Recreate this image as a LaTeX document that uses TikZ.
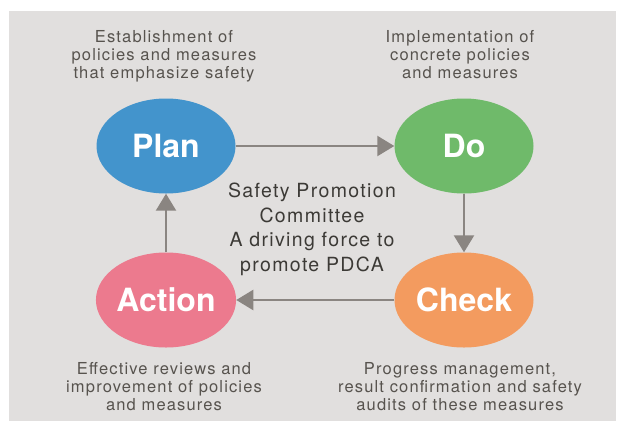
\documentclass[tikz,border=0pt]{standalone}
\usepackage{fontspec}
\setmainfont{TeX Gyre Heros}
\newfontfamily\widefont[LetterSpace=7]{TeX Gyre Heros}
\usetikzlibrary{shapes.geometric,arrows.meta}
\definecolor{bggray}{HTML}{E1DFDE}
\definecolor{arrowgray}{HTML}{8A8581}
\definecolor{notegray}{HTML}{57534E}
\definecolor{centergray}{HTML}{3C3A36}
\definecolor{planblue}{HTML}{4394CC}
\definecolor{dogreen}{HTML}{6FBA6A}
\definecolor{checkorange}{HTML}{F39B5F}
\definecolor{actpink}{HTML}{EC7A8E}
\begin{document}
\begin{tikzpicture}[x=1pt,y=-1pt,
    phase/.style={ellipse,minimum width=139pt,minimum height=95pt,inner sep=0pt,
      text=white,font=\fontsize{32}{32}\selectfont\bfseries},
    note/.style={anchor=north,align=center,inner sep=0pt,text=notegray,
      font=\widefont\fontsize{16.5}{18.3}\selectfont},
    flow/.style={draw=arrowgray,line width=2.3pt,-{Triangle[length=17pt,width=20pt]}}]
  \useasboundingbox (0,0) rectangle (617,421);
  \fill[bggray] (9,11) rectangle (616,421);
  % the four steps
  \node[phase,fill=planblue] (plan) at (166,146) {Plan};
  \node[phase,fill=dogreen] (do) at (464,146) {Do};
  \node[phase,fill=checkorange] (check) at (464,300) {Check};
  \node[phase,fill=actpink] (act) at (166,300) {Action};
  \draw[flow] (plan) -- (do);
  \draw[flow] (do) -- (check);
  \draw[flow] (check) -- (act);
  \draw[flow] (act) -- (plan);
  % committee in the middle
  \node[anchor=north,align=center,inner sep=0pt,text=centergray,
    font=\widefont\fontsize{19.5}{24.5}\selectfont] (committee) at (312,183)
    {Safety Promotion\\Committee\\A driving force to\\promote PDCA};
  % notes
  \node[note] (plannote) at (164,30) {Establishment of\\policies and measures\\that emphasize safety};
  \node[note] (donote) at (460,30) {Implementation of\\concrete policies\\and measures};
  \node[note] (actnote) at (164,362) {Effective reviews and\\improvement of policies\\and measures};
  \node[note] (checknote) at (460,362) {Progress management,\\result confirmation and safety\\audits of these measures};
\end{tikzpicture}
\end{document}
